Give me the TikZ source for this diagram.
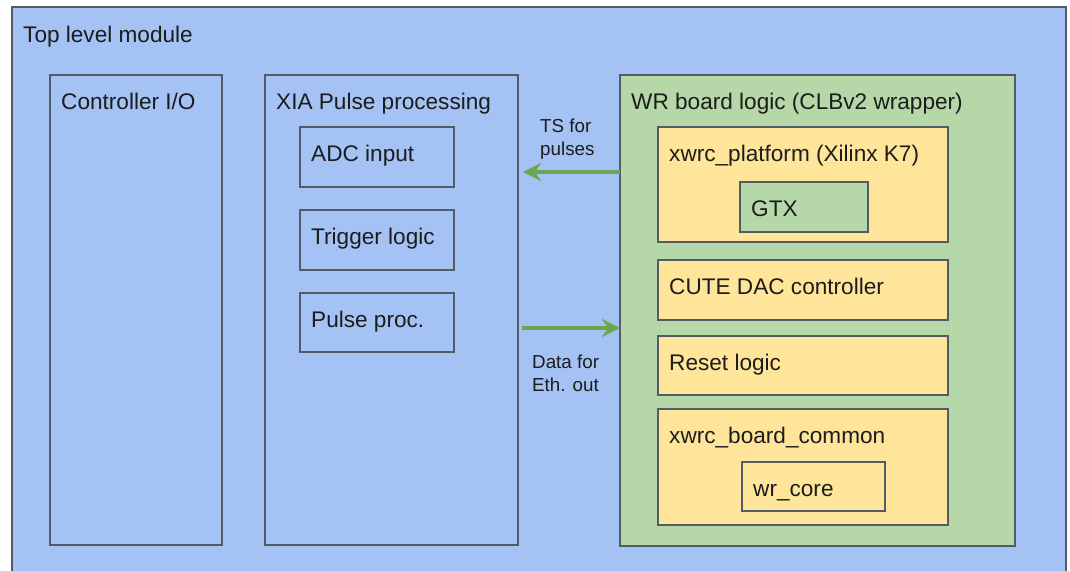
\documentclass[tikz,border=0pt]{standalone}
\usepackage{fontspec}
\setmainfont{Liberation Sans}
\usetikzlibrary{arrows.meta}
\definecolor{bluef}{HTML}{A4C2F4}
\definecolor{greenf}{HTML}{B6D7A8}
\definecolor{yellowf}{HTML}{FFE599}
\definecolor{arrg}{HTML}{6AA84F}
\definecolor{edge}{HTML}{545A66}
\definecolor{txtc}{HTML}{1C1C1C}
\tikzset{
  blk/.style={draw=edge, line width=1.3pt, inner sep=0pt, outer sep=0pt, anchor=north west},
  ttl/.style={anchor=base west, inner sep=0pt, text=txtc, font=\fontsize{22.6}{27}\selectfont},
  lbl/.style={anchor=base west, inner sep=0pt, text=txtc, font=\fontsize{18.8}{23}\selectfont, align=left},
  arr/.style={draw=arrg, line width=3.8pt, -{Stealth[length=18pt, width=18pt, inset=6pt]}},
}
\newcommand\mkblk[7]{%
  \node[blk, fill=#6, minimum width={(#4-#2)*1pt}, minimum height={(#5-#3)*1pt}] (#1) at (#2,#3) {};
  \node[ttl] (#1-t) at ([shift={(11,34.5)}]#1.north west) {#7};
}
\begin{document}
\begin{tikzpicture}[x=1pt, y=-1pt]
\useasboundingbox (0,0) rectangle (1070,570);
\fill[white] (0,0) rectangle (1070,570);
\begin{scope}
\clip (0,0) rectangle (1070,570);
\node[blk, fill=bluef, minimum width=1054pt, minimum height=600pt] (top) at (12,7) {};
\end{scope}
\node[ttl] (top-t) at ([shift={(11,35)}]top.north west) {Top level module};
\mkblk{ctrl}{50}{75}{222}{545}{bluef}{Controller I/O}
\mkblk{xia}{265}{75}{518}{545}{bluef}{XIA Pulse processing}
\mkblk{adc}{300}{127}{454}{187}{bluef}{ADC input}
\mkblk{trig}{300}{210}{454}{270}{bluef}{Trigger logic}
\mkblk{pp}{300}{293}{454}{352}{bluef}{Pulse proc.}
\mkblk{wr}{620}{75}{1015}{546}{greenf}{WR board logic (CLBv2 wrapper)}
\mkblk{plat}{658}{127}{948}{242}{yellowf}{xwrc\_platform (Xilinx K7)}
\mkblk{gtx}{740}{182}{868}{232}{greenf}{GTX}
\mkblk{dac}{658}{260}{948}{320}{yellowf}{CUTE DAC controller}
\mkblk{rst}{658}{336}{948}{395}{yellowf}{Reset logic}
\mkblk{bc}{658}{409}{948}{525}{yellowf}{xwrc\_board\_common}
\mkblk{wrc}{742}{462}{885}{511}{yellowf}{wr\_core}
\coordinate (tsA) at (wr.west |- 0,172);
\coordinate (tsB) at ([xshift=5pt]xia.east |- 0,172);
\coordinate (daA) at ([xshift=4pt]xia.east |- 0,328);
\coordinate (daB) at (wr.west |- 0,328);
\draw[arr] (tsA) -- (tsB);
\draw[arr] (daA) -- (daB);
\node[lbl] (tsl) at (540,155) {TS for\\pulses};
\node[lbl] (dal) at (532,391) {Data for\\Eth. out};
\end{tikzpicture}
\end{document}
